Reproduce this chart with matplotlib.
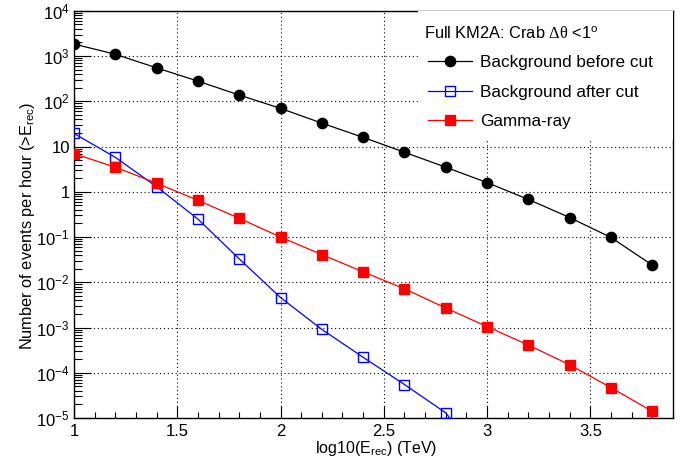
import matplotlib
matplotlib.use("Agg")
import matplotlib.pyplot as plt
from matplotlib.ticker import FixedLocator, FixedFormatter, MultipleLocator
from matplotlib.patches import Rectangle

plt.rcParams['font.family'] = ['Liberation Sans', 'DejaVu Sans']
plt.rcParams['mathtext.fontset'] = 'custom'
plt.rcParams['mathtext.rm'] = 'Liberation Sans'
plt.rcParams['mathtext.it'] = 'Liberation Sans:italic'
plt.rcParams['mathtext.bf'] = 'Liberation Sans:bold'
plt.rcParams['mathtext.sf'] = 'Liberation Serif'

log_e = [1.0, 1.2, 1.4, 1.6, 1.8, 2.0, 2.2, 2.4, 2.6, 2.8, 3.0, 3.2, 3.4, 3.6, 3.8]
bkg_before = [1850, 1100, 550, 280, 138, 70, 33, 16, 7.5, 3.5, 1.6, 0.68, 0.27, 0.098, 0.024]
log_e_after = [1.0, 1.2, 1.4, 1.6, 1.8, 2.0, 2.2, 2.4, 2.6, 2.8, 2.9]
bkg_after = [19.5, 5.8, 1.3, 0.25, 0.033, 0.0046, 9.1e-4, 2.2e-4, 5.5e-5, 1.3e-5, 3.2e-6]
gamma = [7.0, 3.5, 1.55, 0.65, 0.26, 0.10, 0.041, 0.017, 0.0072, 0.0027, 0.00105, 4.1e-4, 1.5e-4, 4.7e-5, 1.4e-5]

y_ticks = [1e4, 1e3, 1e2, 10, 1, 0.1, 0.01, 1e-3, 1e-4, 1e-5]
y_tick_labels = [r'$10^{4}$', r'$10^{3}$', r'$10^{2}$', '10', '1',
                 r'$10^{-1}$', r'$10^{-2}$', r'$10^{-3}$', r'$10^{-4}$', r'$10^{-5}$']
x_ticks = [1, 1.5, 2, 2.5, 3, 3.5]
x_tick_labels = ['1', '1.5', '2', '2.5', '3', '3.5']

fig = plt.figure(figsize=(6.83, 4.59), dpi=100)
ax = fig.add_axes([0.1083, 0.0893, 0.877, 0.887])

ax.set_yscale('log')
ax.set_xlim(1, 3.9)
ax.set_ylim(1e-5, 1e4)

ax.plot(log_e, bkg_before, color='black', lw=0.9, marker='o', ms=7.4,
        mfc='black', mec='black', label='Background before cut', zorder=5)
ax.plot(log_e_after, bkg_after, color='blue', lw=0.9, marker='s', ms=7.8,
        mfc='none', mec='blue', mew=1.0, label='Background after cut',
        markevery=list(range(10)), zorder=5)
ax.plot(log_e, gamma, color='red', lw=0.9, marker='s', ms=7.2,
        mfc='red', mec='red', label='Gamma-ray', zorder=5)

ax.yaxis.set_major_locator(FixedLocator(y_ticks))
ax.yaxis.set_major_formatter(FixedFormatter(y_tick_labels))
minor = [m * 10.0**e for e in range(-5, 4) for m in range(2, 10)]
ax.yaxis.set_minor_locator(FixedLocator(minor))
ax.yaxis.set_minor_formatter(FixedFormatter([''] * len(minor)))
ax.xaxis.set_major_locator(FixedLocator(x_ticks))
ax.xaxis.set_major_formatter(FixedFormatter(x_tick_labels))
ax.xaxis.set_minor_locator(MultipleLocator(0.1))

ax.tick_params(axis='both', which='both', direction='in', labelsize=12, colors='black')
ax.tick_params(axis='x', which='major', length=8.5, width=0.8, pad=4)
ax.tick_params(axis='x', which='minor', length=4.3, width=0.8)
ax.tick_params(axis='y', which='major', length=12.5, width=0.8, pad=3)
ax.tick_params(axis='y', which='minor', length=6, width=0.8)

ax.grid(True, which='major', linestyle=(0, (1, 2.5)), color='black', lw=0.8)
for s in ax.spines.values():
    s.set_linewidth(1.0)

ax.set_xlabel(r'log10(E$_{\mathrm{rec}}$) (TeV)', fontsize=11.5)
ax.set_ylabel(r'Number of events per hour (>E$_{\mathrm{rec}}$)', fontsize=11.8)
ax.xaxis.set_label_coords(0.505, -0.052)
ax.yaxis.set_label_coords(-0.062, 0.472)

ax.add_patch(Rectangle((0.574, 0.683), 0.426, 0.317, transform=ax.transAxes,
                       facecolor='white', edgecolor='none', zorder=3))
ax.text(0.584, 0.943, r'Full KM2A: Crab $\mathsf{\Delta\theta}$ <1$^{\mathrm{o}}$',
        transform=ax.transAxes, ha='left', va='center', fontsize=11.8, zorder=6)
leg = ax.legend(loc='upper left', bbox_to_anchor=(0.591, 0.892), frameon=False,
                fontsize=12.3, handlelength=2.6, handletextpad=0.47,
                labelspacing=0.86, borderaxespad=0, borderpad=0)
leg.set_zorder(6)

fig.savefig('out.png', dpi=100)
